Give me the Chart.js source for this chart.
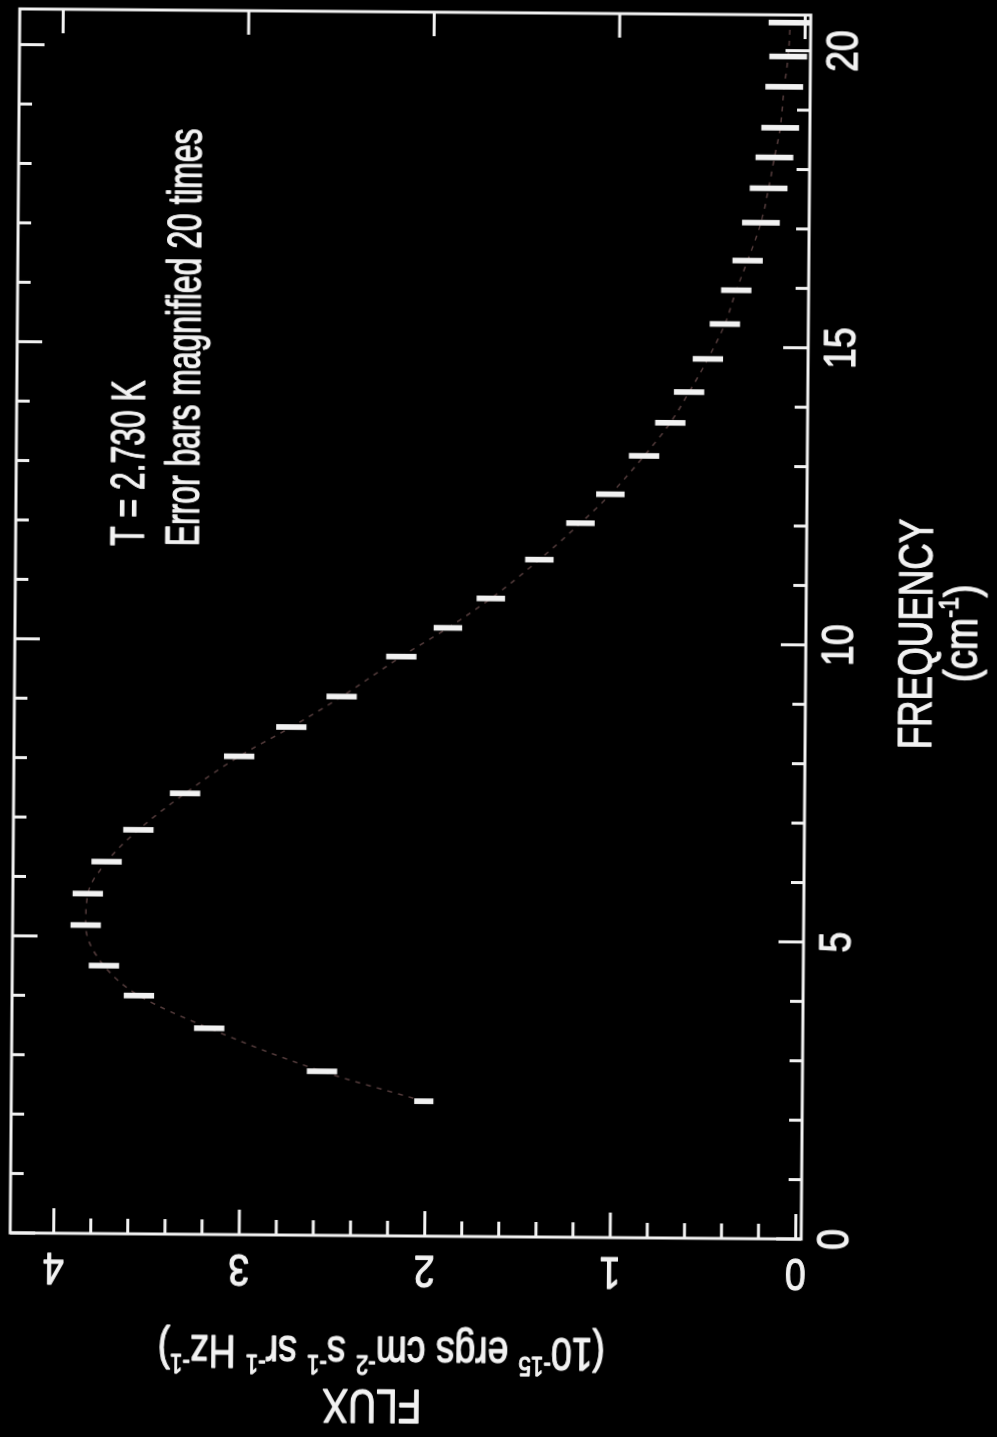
<!DOCTYPE html>
<html>
<head>
<meta charset="utf-8">
<script src="https://cdn.jsdelivr.net/npm/chart.js@4.4.0/dist/chart.umd.min.js"></script>
<style>
  html, body { margin: 0; padding: 0; background: #000; overflow: hidden; }
  #wrap { position: absolute; left: 0; top: 0; width: 997px; height: 1437px;
          transform-origin: 410px 623px; transform: rotate(0.45deg); }
  #spec { position: absolute; left: 0; top: 0; transform-origin: 0 0;
          transform: translate(0px, 1437px) rotate(-90deg); }
</style>
</head>
<body>
<div id="wrap"><canvas id="spec" width="1437" height="997"></canvas></div>
<script>
// frequency (cm^-1) of each measured point
var freq = [2.27, 2.76, 3.47, 4.01, 4.51, 5.19, 5.72, 6.26, 6.80, 7.42, 8.05,
            8.55, 9.07, 9.75, 10.24, 10.74, 11.40, 12.02, 12.51, 13.16, 13.72,
            14.24, 14.80, 15.39, 15.96, 16.46, 17.10, 17.68, 18.20, 18.70,
            19.39, 19.90, 20.47];
// flux, 10^-15 ergs cm^-2 s^-1 sr^-1 Hz^-1
var flux = [2.01, 2.56, 3.17, 3.55, 3.74, 3.84, 3.83, 3.73, 3.56, 3.31, 3.02,
            2.74, 2.47, 2.15, 1.90, 1.67, 1.41, 1.19, 1.03, 0.85, 0.71,
            0.61, 0.51, 0.42, 0.36, 0.30, 0.23, 0.19, 0.16, 0.13,
            0.11, 0.09, 0.08];
// half length of each (x20) error bar
var errs = [0.05, 0.08, 0.08, 0.08, 0.08, 0.08, 0.08, 0.08, 0.08, 0.08, 0.08,
            0.08, 0.08, 0.08, 0.075, 0.075, 0.075, 0.075, 0.075, 0.08, 0.08,
            0.08, 0.08, 0.08, 0.08, 0.08, 0.10, 0.10, 0.10, 0.10,
            0.10, 0.10, 0.115];

var freqTicks = [0, 5, 10, 15, 20];
var fluxTicks = [0, 1, 2, 3, 4];
var freqRange = [0, 20.6];
var fluxRange = [-0.03, 4.234];

var WHITE = '#f2f2f2';
var FAMILY = "'Liberation Sans', Arial, sans-serif";

// draws text made of plain and superscript pieces, squeezed by sx
function richText(ctx, segs, u, v, size, sx, rot, align) {
    ctx.save();
    ctx.translate(u, v);
    if (rot) ctx.rotate(rot);
    ctx.scale(sx, 1);
    var w = 0;
    segs.forEach(function (s) {
        ctx.font = (s.sup ? size * 0.6 : size) + 'px ' + FAMILY;
        s.w = ctx.measureText(s.t).width;
        w += s.w;
    });
    var x = align === 'left' ? 0 : -w / 2;
    ctx.fillStyle = WHITE;
    ctx.strokeStyle = WHITE;
    ctx.lineWidth = 1.2;
    ctx.lineJoin = 'round';
    ctx.textBaseline = 'alphabetic';
    ctx.textAlign = 'left';
    segs.forEach(function (s) {
        ctx.font = (s.sup ? size * 0.6 : size) + 'px ' + FAMILY;
        var y = s.sup ? -size * 0.42 : 0;
        ctx.fillText(s.t, x, y);
        ctx.strokeText(s.t, x, y);
        x += s.w;
    });
    ctx.restore();
}

var framePlugin = {
    id: 'frame',
    afterDraw: function (chart) {
        var ctx = chart.ctx, a = chart.chartArea;
        var xs = chart.scales.x, ys = chart.scales.y;
        ctx.save();
        ctx.strokeStyle = WHITE;
        ctx.lineWidth = 3;
        ctx.strokeRect(a.left, a.top, a.right - a.left, a.bottom - a.top);

        ctx.beginPath();
        for (var f = 0; f <= 20; f++) {
            var px = xs.getPixelForValue(f);
            var len = f % 5 === 0 ? 25 : 13;
            ctx.moveTo(px, a.bottom); ctx.lineTo(px, a.bottom - len);
            ctx.moveTo(px, a.top); ctx.lineTo(px, a.top + len);
        }
        for (var i = 0; i <= 20; i++) {
            var py = ys.getPixelForValue(i / 5);
            var major = i % 5 === 0;
            ctx.moveTo(a.left, py); ctx.lineTo(a.left + (major ? 25 : 15), py);
            if (major) { ctx.moveTo(a.right, py); ctx.lineTo(a.right - 24, py); }
        }
        ctx.stroke();
        ctx.restore();

        freqTicks.forEach(function (t) {
            richText(ctx, [{t: String(t)}], xs.getPixelForValue(t), 853, 44, 0.85, 0, 'center');
        });
        fluxTicks.forEach(function (t) {
            richText(ctx, [{t: String(t)}], 181, ys.getPixelForValue(t), 44, 0.85, -Math.PI / 2, 'center');
        });

        richText(ctx, [{t: 'FREQUENCY'}], 807, 932, 49, 0.75, 0, 'center');
        richText(ctx, [{t: '(cm'}, {t: '-1', sup: true}, {t: ')'}], 808, 977, 46, 0.84, 0, 'center');

        richText(ctx, [{t: 'FLUX'}], 47, 378, 49, 0.79, -Math.PI / 2, 'center');
        richText(ctx, [{t: '(10'}, {t: '-15', sup: true}, {t: ' ergs cm'}, {t: '-2', sup: true},
                       {t: ' s'}, {t: '-1', sup: true}, {t: ' sr'}, {t: '-1', sup: true},
                       {t: ' Hz'}, {t: '-1', sup: true}, {t: ')'}],
                 100, 387, 46, 0.81, -Math.PI / 2, 'center');

        richText(ctx, [{t: 'T = 2.730 K'}], 889, 142.5, 49, 0.65, 0, 'left');
        richText(ctx, [{t: 'Error bars magnified 20 times'}], 889, 198, 49, 0.65, 0, 'left');
    }
};

var fitPts = freq.map(function (f, i) { return {x: f, y: flux[i]}; });
var barPts = freq.map(function (f, i) { return {x: f, y: [flux[i] - errs[i], flux[i] + errs[i]]}; });

new Chart(document.getElementById('spec'), {
    type: 'bar',
    data: {
        datasets: [
            {
                type: 'bar',
                data: barPts,
                backgroundColor: WHITE,
                borderWidth: 0,
                barThickness: 5,
                grouped: false,
                order: 0
            },
            {
                type: 'line',
                data: fitPts,
                borderColor: 'rgba(105,75,75,0.8)',
                borderWidth: 1.5,
                borderDash: [5, 6],
                pointRadius: 0,
                cubicInterpolationMode: 'monotone',
                fill: false,
                order: 1
            }
        ]
    },
    options: {
        responsive: false,
        animation: false,
        events: [],
        layout: { padding: { top: 15, right: 12, left: 0, bottom: 0 } },
        plugins: { legend: { display: false }, tooltip: { enabled: false } },
        scales: {
            x: {
                type: 'linear', min: freqRange[0], max: freqRange[1], offset: false,
                ticks: { display: false }, grid: { display: false, offset: false }, border: { display: false },
                afterFit: function (s) { s.height = 191; }
            },
            y: {
                type: 'linear', min: fluxRange[0], max: fluxRange[1],
                ticks: { display: false }, grid: { display: false }, border: { display: false },
                afterFit: function (s) { s.width = 201; }
            }
        }
    },
    plugins: [framePlugin]
});
</script>
</body>
</html>
